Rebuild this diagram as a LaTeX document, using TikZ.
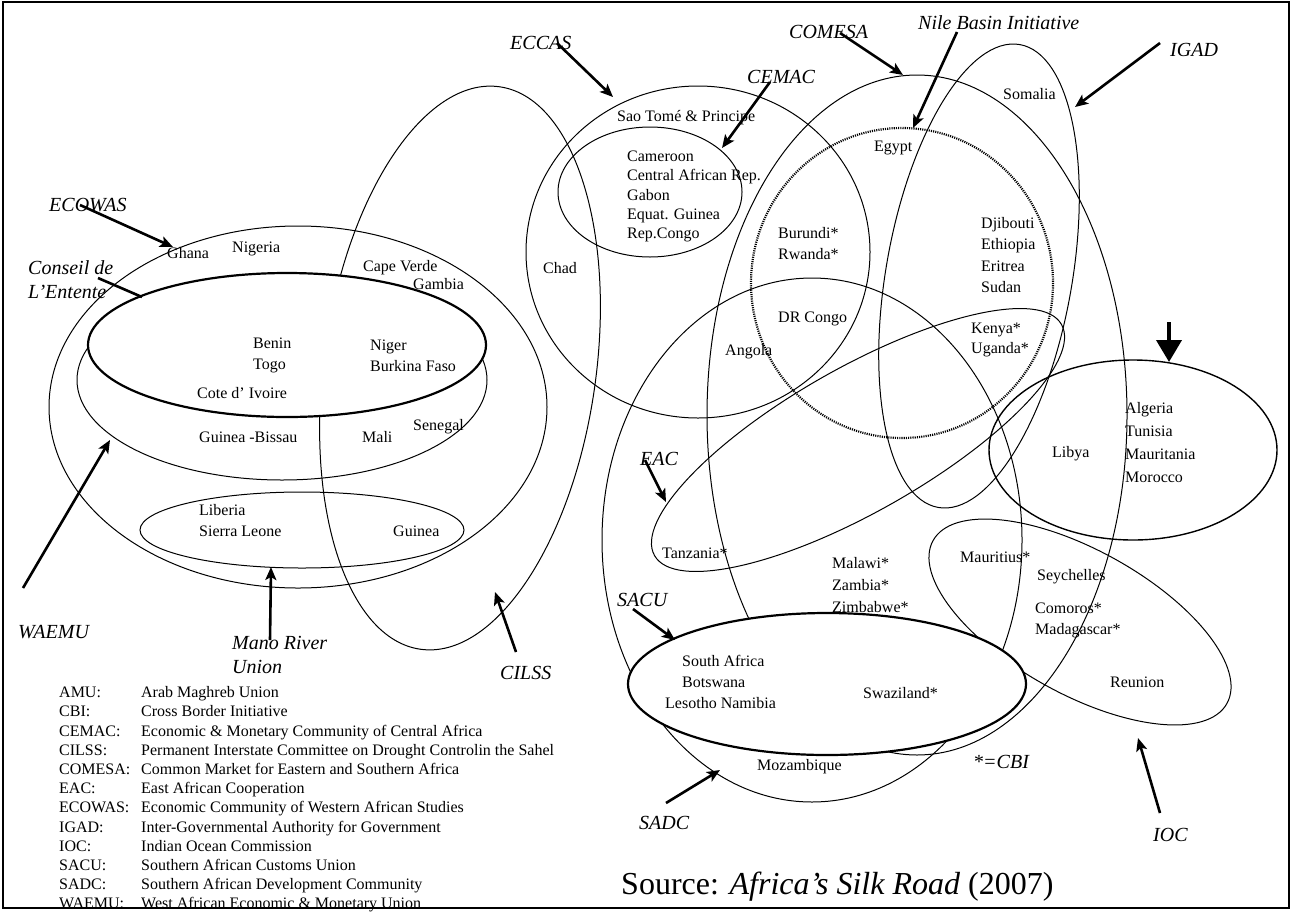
\documentclass[tikz,border=0pt]{standalone}
\usepackage{fontspec}
\setmainfont{Liberation Serif}
\usetikzlibrary{arrows.meta}
\tikzset{
    bloc/.style={draw,line width=1pt},
    fleche/.style={line width=2.6pt,-{Stealth[length=13pt,width=11pt,inset=3pt]}},
    pays/.style={anchor=west,inner sep=0pt,align=left,font=\fontsize{16}{21}\selectfont},
    orga/.style={anchor=west,inner sep=0pt,align=left,font=\fontsize{20}{24}\selectfont\itshape},
  }
\begin{document}
\begin{tikzpicture}[x=1pt,y=-1pt]
			  \useasboundingbox (0,0) rectangle (1292,911);
			  \draw[line width=1.4pt] (3,2) rectangle (1289,908);
			  %ELLIPSES OUEST
			  \draw[bloc] (298,407) ellipse [x radius=249, y radius=181];
			  \draw[bloc] (282,380) ellipse [x radius=205, y radius=100];
			  \draw[bloc,rotate around={82:(460,368)}] (460,368) ellipse [x radius=284, y radius=136];
			  \draw[bloc,line width=2.2pt,fill=white] (287,345) ellipse [x radius=199, y radius=72];
			  \draw[bloc] (302,530) ellipse [x radius=162, y radius=38];
			  %ELLIPSES CENTRE ET EST
			  \draw[bloc] (698,252) ellipse [x radius=172, y radius=166];
			  \draw[bloc] (650,192) ellipse [x radius=92, y radius=65];
			  \draw[bloc] (917,415) ellipse [x radius=210, y radius=340];
			  \draw[bloc,line width=2.2pt,dash pattern=on 1.1pt off 1.1pt] (902,283) ellipse [x radius=151, y radius=155];
			  \draw[bloc,rotate around={80:(979,276)}] (979,276) ellipse [x radius=235, y radius=93];
			  \draw[bloc,rotate around={29.6:(858,440)}] (858,440) ellipse [x radius=234, y radius=72];
			  \draw[bloc] (812,540) ellipse [x radius=210, y radius=262];
			  \draw[bloc,rotate around={-29:(1080,622)}] (1080,622) ellipse [x radius=168, y radius=72];
			  \draw[bloc,line width=1.4pt] (1133,450) ellipse [x radius=144, y radius=90];
			  \draw[bloc,line width=2.2pt,fill=white] (827,684) ellipse [x radius=199, y radius=71];
			  %PAYS OUEST
			  \node[pays] (ghana) at (167,253) {Ghana};
			  \node[pays] (nigeria) at (232,249) {Nigeria};
			  \node[pays] (capeverde) at (363,268) {Cape Verde};
			  \node[pays] (gambia) at (413,284) {Gambia};
			  \node[pays] (benin) at (253,355.5) {Benin\\Togo};
			  \node[pays] (niger) at (370,355.5) {Niger\\Burkina Faso};
			  \node[pays] (cote) at (197,393) {Cote d' Ivoire};
			  \node[pays] (bissau) at (199,437) {Guinea -Bissau};
			  \node[pays] (mali) at (362,437) {Mali};
			  \node[pays] (senegal) at (413,427) {Senegal};
			  \node[pays] (liberia) at (199,520.5) {Liberia\\Sierra Leone};
			  \node[pays] (guinea) at (393,531) {Guinea};
			  %PAYS CENTRE ET EST
			  \node[pays] (saotome) at (617,118) {Sao Tomé \& Principe};
			  \node[pays,font=\fontsize{16}{19.3}\selectfont] (cameroon) at (627,196.5) {Cameroon\\Central African Rep.\\Gabon\\Equat. Guinea\\Rep.Congo};
			  \node[pays] (chad) at (543,268) {Chad};
			  \node[pays] (egypt) at (874,148) {Egypt};
			  \node[pays] (burundi) at (778,243.5) {Burundi*\\Rwanda*};
			  \node[pays] (somalia) at (1003,94) {Somalia};
			  \node[pays,font=\fontsize{16}{21.3}\selectfont] (djibouti) at (981,255) {Djibouti\\Ethiopia\\Eritrea\\Sudan};
			  \node[pays] (drcongo) at (778,319) {DR Congo};
			  \node[pays] (angola) at (725,352) {Angola};
			  \node[pays,font=\fontsize{16}{20}\selectfont] (kenya) at (971,340) {Kenya*\\Uganda*};
			  \node[pays,font=\fontsize{16}{23}\selectfont] (algeria) at (1125,442.5) {Algeria\\Tunisia\\Mauritania\\Morocco};
			  \node[pays] (libya) at (1052,454) {Libya};
			  \node[pays] (tanzania) at (662,553) {Tanzania*};
			  \node[pays,font=\fontsize{16}{22}\selectfont] (malawi) at (832,585) {Malawi*\\Zambia*\\Zimbabwe*};
			  \node[pays] (mauritius) at (960,557) {Mauritius*};
			  \node[pays] (seychelles) at (1037,577) {Seychelles};
			  \node[pays] (comoros) at (1035,620.5) {Comoros*\\Madagascar*};
			  \node[pays] (reunion) at (1110,682) {Reunion};
			  \node[pays] (southafrica) at (682,671.5) {South Africa\\Botswana};
			  \node[pays] (lesotho) at (665,703) {Lesotho Namibia};
			  \node[pays] (swaziland) at (863,693) {Swaziland*};
			  \node[pays] (mozambique) at (757,767) {Mozambique};
			  %ORGANISATIONS
			  \node[orga] (ecowas) at (49,205) {ECOWAS};
			  \node[orga] (conseil) at (28,280) {Conseil de\\L'Entente};
			  \node[orga] (waemu) at (18,632) {WAEMU};
			  \node[orga] (mano) at (232,655) {Mano River\\Union};
			  \node[orga] (cilss) at (500,673) {CILSS};
			  \node[orga] (eccas) at (510,43) {ECCAS};
			  \node[orga] (cemac) at (747,77) {CEMAC};
			  \node[orga] (comesa) at (789,32) {COMESA};
			  \node[orga] (nile) at (918,23) {Nile Basin Initiative};
			  \node[orga] (igad) at (1170,50) {IGAD};
			  \node[orga] (eac) at (640,459) {EAC};
			  \node[orga] (sacu) at (617,600) {SACU};
			  \node[orga] (sadc) at (639,823) {SADC};
			  \node[orga] (ioc) at (1153,835) {IOC};
			  \node[orga] (cbi) at (973,762) {*=CBI};
			  %FLECHES
			  \coordinate (ECOWAS_a) at (80,205);   \coordinate (ECOWAS_b) at (173,247);
			  \coordinate (CONSEIL_a) at (98,278);  \coordinate (CONSEIL_b) at (142,297);
			  \coordinate (WAEMU_a) at (23,588);    \coordinate (WAEMU_b) at (110,440);
			  \coordinate (MANO_a) at (270,640);    \coordinate (MANO_b) at (271,567);
			  \coordinate (CILSS_a) at (516,652);   \coordinate (CILSS_b) at (495,592);
			  \coordinate (ECCAS_a) at (557,43);    \coordinate (ECCAS_b) at (613,97);
			  \coordinate (CEMAC_a) at (770,82);    \coordinate (CEMAC_b) at (722,148);
			  \coordinate (COMESA_a) at (840,33);   \coordinate (COMESA_b) at (903,75);
			  \coordinate (NILE_a) at (957,32);     \coordinate (NILE_b) at (913,128);
			  \coordinate (IGAD_a) at (1160,43);    \coordinate (IGAD_b) at (1075,107);
			  \coordinate (AMU_a) at (1169,322);    \coordinate (AMU_b) at (1169,362);
			  \coordinate (EAC_a) at (645,460);     \coordinate (EAC_b) at (666,502);
			  \coordinate (SACU_a) at (633,609);    \coordinate (SACU_b) at (675,640);
			  \coordinate (SADC_a) at (666,803);    \coordinate (SADC_b) at (720,770);
			  \coordinate (IOC_a) at (1160,813);    \coordinate (IOC_b) at (1138,738);
			  \draw[fleche] (ECOWAS_a) -- (ECOWAS_b);
			  \draw[line width=2.6pt] (CONSEIL_a) -- (CONSEIL_b);
			  \draw[fleche] (WAEMU_a) -- (WAEMU_b);
			  \draw[fleche] (MANO_a) -- (MANO_b);
			  \draw[fleche] (CILSS_a) -- (CILSS_b);
			  \draw[fleche] (ECCAS_a) -- (ECCAS_b);
			  \draw[fleche] (CEMAC_a) -- (CEMAC_b);
			  \draw[fleche] (COMESA_a) -- (COMESA_b);
			  \draw[fleche] (NILE_a) -- (NILE_b);
			  \draw[fleche] (IGAD_a) -- (IGAD_b);
			  \draw[line width=4pt,-{Triangle[length=22pt,width=25pt]}] (AMU_a) -- (AMU_b);
			  \draw[fleche] (EAC_a) -- (EAC_b);
			  \draw[fleche] (SACU_a) -- (SACU_b);
			  \draw[fleche] (SADC_a) -- (SADC_b);
			  \draw[fleche] (IOC_a) -- (IOC_b);
			  %LEGENDE ET SOURCE
			  \node[anchor=north west,inner sep=0pt,font=\fontsize{16}{19.2}\selectfont] (legende) at (59,684) {%
			    \begin{tabular}{@{}p{82pt}@{}l@{}}
			      AMU: & Arab Maghreb Union\\
			      CBI: & Cross Border Initiative\\
			      CEMAC: & Economic \& Monetary Community of Central Africa\\
			      CILSS: & Permanent Interstate Committee on Drought Controlin the Sahel\\
			      COMESA: & Common Market for Eastern and Southern Africa\\
			      EAC: & East African Cooperation\\
			      ECOWAS: & Economic Community of Western African Studies\\
			      IGAD: & Inter-Governmental Authority for Government\\
			      IOC: & Indian Ocean Commission\\
			      SACU: & Southern African Customs Union\\
			      SADC: & Southern African Development Community\\
			      WAEMU: & West African Economic \& Monetary Union
			    \end{tabular}};
			  \node[anchor=west,inner sep=0pt,font=\fontsize{32}{38}\selectfont] (source) at (621,887) {Source: \textit{Africa's Silk Road} (2007)};
\end{tikzpicture}
\end{document}
